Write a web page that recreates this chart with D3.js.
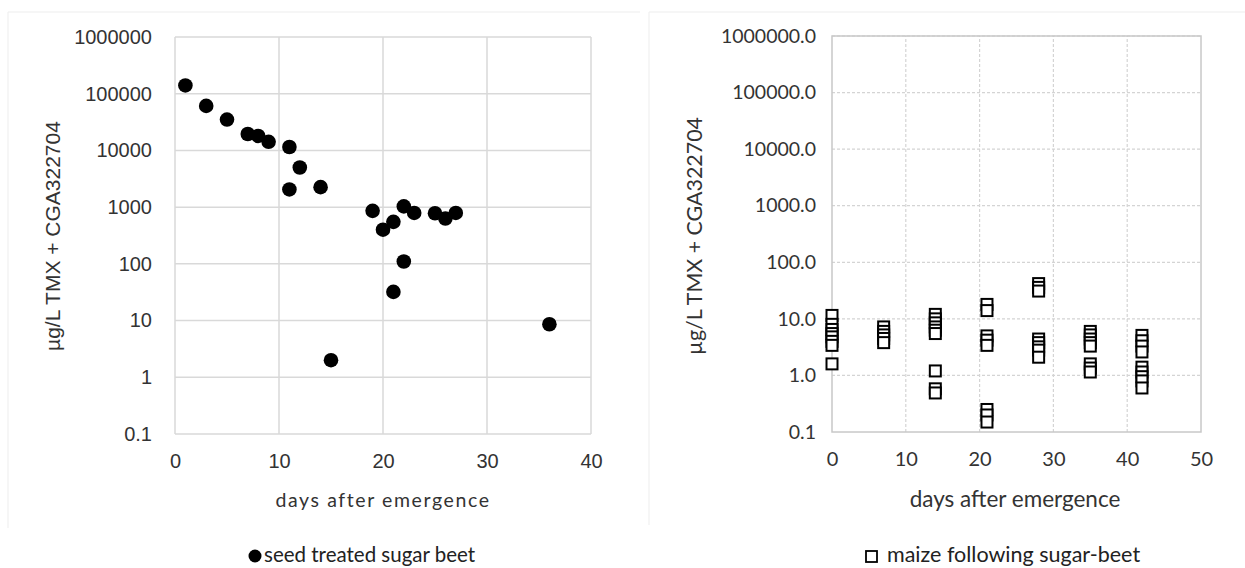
<!DOCTYPE html>
<html>
<head>
<meta charset="utf-8">
<script src="https://cdn.jsdelivr.net/npm/d3@7"></script>
<style>
  body { margin: 0; background: #fff; }
  svg { display: block; }
</style>
</head>
<body>
<div class="canvas"></div>
<script>
// seed treated sugar beet: days after emergence / concentration
const beetDays = [1, 3, 5, 7, 8, 9, 11, 12, 11, 14, 15, 19, 20, 21, 22, 23, 25, 26, 27, 22, 21, 36];
const beetConc = [140000, 61000, 35000, 19500, 18000, 14200, 11500, 5000, 2050, 2250, 2, 860, 400, 550, 1030, 790, 780, 630, 790, 110, 32, 8.6];

// maize following sugar-beet: sampling days and concentrations per day
const maizeDays = [0, 7, 14, 21, 28, 35, 42];
const maizeConc = [
    [11.5, 8, 6.5, 5.5, 4.8, 4, 3.4, 1.6],
    [7.2, 6, 5.2, 4.5, 3.8],
    [12, 10, 8.5, 7.2, 6.3, 5.5, 1.2, 0.58, 0.49],
    [18, 14, 5, 4.2, 3.4, 0.25, 0.2, 0.15],
    [42, 36, 31, 4.4, 3.8, 3.2, 2.8, 2.1],
    [6, 5.2, 4.4, 3.8, 3.3, 1.6, 1.35, 1.15],
    [5.1, 4.1, 3.3, 2.6, 1.4, 1.15, 0.95, 0.8, 0.6]
];

const yTicks = [0.1, 1, 10, 100, 1000, 10000, 100000, 1000000];
const leftXTicks = [0, 10, 20, 30, 40];
const rightXTicks = [0, 10, 20, 30, 40, 50];

const yTitle = "µg/L TMX + CGA322704";
const xTitle = "days after emergence";

const width = 1245, height = 568;
const textColour = "#333";
const svg = d3.select(".canvas")
    .append("svg")
    .attr("width", width)
    .attr("height", height);

// faint chart frames
svg.append("path")
    .attr("d", "M8,528V12H640")
    .attr("fill", "none")
    .attr("stroke", "#ededed");
svg.append("path")
    .attr("d", "M649,525V12H1245")
    .attr("fill", "none")
    .attr("stroke", "#ededed");

// ---------- left chart ----------
const xL = d3.scaleLinear().domain([0, 40]).range([175, 591]);
const yL = d3.scaleLog().domain([0.1, 1000000]).range([434, 37]);

const gL = svg.append("g");
gL.append("g")
    .selectAll("line.h")
    .data(yTicks)
    .join("line")
    .attr("x1", xL(0)).attr("x2", xL(40))
    .attr("y1", d => yL(d)).attr("y2", d => yL(d))
    .attr("stroke", "#d9d9d9").attr("stroke-width", 1.5);
gL.append("g")
    .selectAll("line.v")
    .data(leftXTicks)
    .join("line")
    .attr("x1", d => xL(d)).attr("x2", d => xL(d))
    .attr("y1", yL(0.1)).attr("y2", yL(1000000))
    .attr("stroke", "#d9d9d9").attr("stroke-width", 1.5);

const yAxisL = d3.axisLeft(yL)
    .tickValues(yTicks)
    .tickFormat(d => d < 1 ? String(d) : d3.format("d")(d))
    .tickSize(0)
    .tickPadding(23);
gL.append("g")
    .attr("transform", `translate(${xL(0)},0)`)
    .call(yAxisL)
    .call(g => g.select(".domain").remove())
    .selectAll("text")
    .attr("font-family", "Liberation Sans, Arial, sans-serif")
    .attr("font-size", 20)
    .attr("fill", textColour);

const xAxisL = d3.axisBottom(xL).tickValues(leftXTicks).tickSize(0).tickPadding(20);
gL.append("g")
    .attr("transform", `translate(0,${yL(0.1)})`)
    .call(xAxisL)
    .call(g => g.select(".domain").remove())
    .selectAll("text")
    .attr("font-family", "Liberation Sans, Arial, sans-serif")
    .attr("font-size", 20)
    .attr("fill", textColour);

gL.append("g")
    .selectAll("circle")
    .data(beetDays.map((d, i) => [d, beetConc[i]]))
    .join("circle")
    .attr("cx", d => xL(d[0]))
    .attr("cy", d => yL(d[1]))
    .attr("r", 7.3)
    .attr("fill", "#000");

gL.append("text")
    .attr("x", 383).attr("y", 507)
    .attr("text-anchor", "middle")
    .attr("font-family", "Lato, sans-serif")
    .attr("font-size", 19.5)
    .attr("letter-spacing", 1.6)
    .attr("fill", textColour)
    .text(xTitle);
gL.append("text")
    .attr("transform", "translate(60,236) rotate(-90)")
    .attr("text-anchor", "middle")
    .attr("font-family", "Liberation Sans, Arial, sans-serif")
    .attr("font-size", 21)
    .attr("fill", textColour)
    .text(yTitle);

// ---------- right chart ----------
const xR = d3.scaleLinear().domain([0, 50]).range([832, 1201]);
const yR = d3.scaleLog().domain([0.1, 1000000]).range([432, 36]);

const gR = svg.append("g");
gR.append("g")
    .selectAll("line.h")
    .data(yTicks.slice(1))
    .join("line")
    .attr("x1", xR(0)).attr("x2", xR(50))
    .attr("y1", d => yR(d)).attr("y2", d => yR(d))
    .attr("stroke", "#d4d4d4").attr("stroke-width", 1.2)
    .attr("stroke-dasharray", "3,2");
gR.append("g")
    .selectAll("line.v")
    .data(rightXTicks.slice(1, -1))
    .join("line")
    .attr("x1", d => xR(d)).attr("x2", d => xR(d))
    .attr("y1", yR(0.1)).attr("y2", yR(1000000))
    .attr("stroke", "#d4d4d4").attr("stroke-width", 1.2)
    .attr("stroke-dasharray", "3,2");
gR.append("rect")
    .attr("x", xR(0)).attr("y", yR(1000000))
    .attr("width", xR(50) - xR(0))
    .attr("height", yR(0.1) - yR(1000000))
    .attr("fill", "none")
    .attr("stroke", "#c8c8c8").attr("stroke-width", 1.5);

const yAxisR = d3.axisLeft(yR).tickValues(yTicks).tickFormat(d3.format(".1f")).tickSize(0).tickPadding(16);
gR.append("g")
    .attr("transform", `translate(${xR(0)},0)`)
    .call(yAxisR)
    .call(g => g.select(".domain").remove())
    .selectAll("text")
    .attr("font-family", "Lato, sans-serif")
    .attr("font-size", 19.5)
    .attr("fill", textColour);

const xAxisR = d3.axisBottom(xR).tickValues(rightXTicks).tickSize(0).tickPadding(20);
gR.append("g")
    .attr("transform", `translate(0,${yR(0.1)})`)
    .call(xAxisR)
    .call(g => g.select(".domain").remove())
    .selectAll("text")
    .attr("font-family", "Lato, sans-serif")
    .attr("font-size", 20)
    .attr("fill", textColour);

const maizePoints = maizeDays.flatMap((d, i) => maizeConc[i].map(v => [d, v]));
const sq = 11;
gR.append("g")
    .selectAll("rect.pt")
    .data(maizePoints)
    .join("rect")
    .attr("x", d => xR(d[0]) - sq / 2)
    .attr("y", d => yR(d[1]) - sq / 2)
    .attr("width", sq).attr("height", sq)
    .attr("fill", "#fff")
    .attr("stroke", "#000")
    .attr("stroke-width", 2);

gR.append("text")
    .attr("x", 1015).attr("y", 507)
    .attr("text-anchor", "middle")
    .attr("font-family", "Lato, sans-serif")
    .attr("font-size", 22.5)
    .attr("fill", textColour)
    .text(xTitle);
gR.append("text")
    .attr("transform", "translate(702,236) rotate(-90)")
    .attr("text-anchor", "middle")
    .attr("font-family", "Lato, sans-serif")
    .attr("font-size", 21.4)
    .attr("fill", textColour)
    .text(yTitle);

// ---------- legends ----------
const legend = svg.append("g")
    .attr("font-family", "Lato, sans-serif")
    .attr("fill", "#222");
legend.append("circle").attr("cx", 255).attr("cy", 556).attr("r", 6.5).attr("fill", "#000");
legend.append("text").attr("x", 264).attr("y", 562).attr("font-size", 20.5).text("seed treated sugar beet");
legend.append("rect").attr("x", 866).attr("y", 551).attr("width", 11).attr("height", 11)
    .attr("fill", "#fff").attr("stroke", "#000").attr("stroke-width", 1.8);
legend.append("text").attr("x", 887).attr("y", 562).attr("font-size", 21.5).text("maize following sugar-beet");
</script>
</body>
</html>
